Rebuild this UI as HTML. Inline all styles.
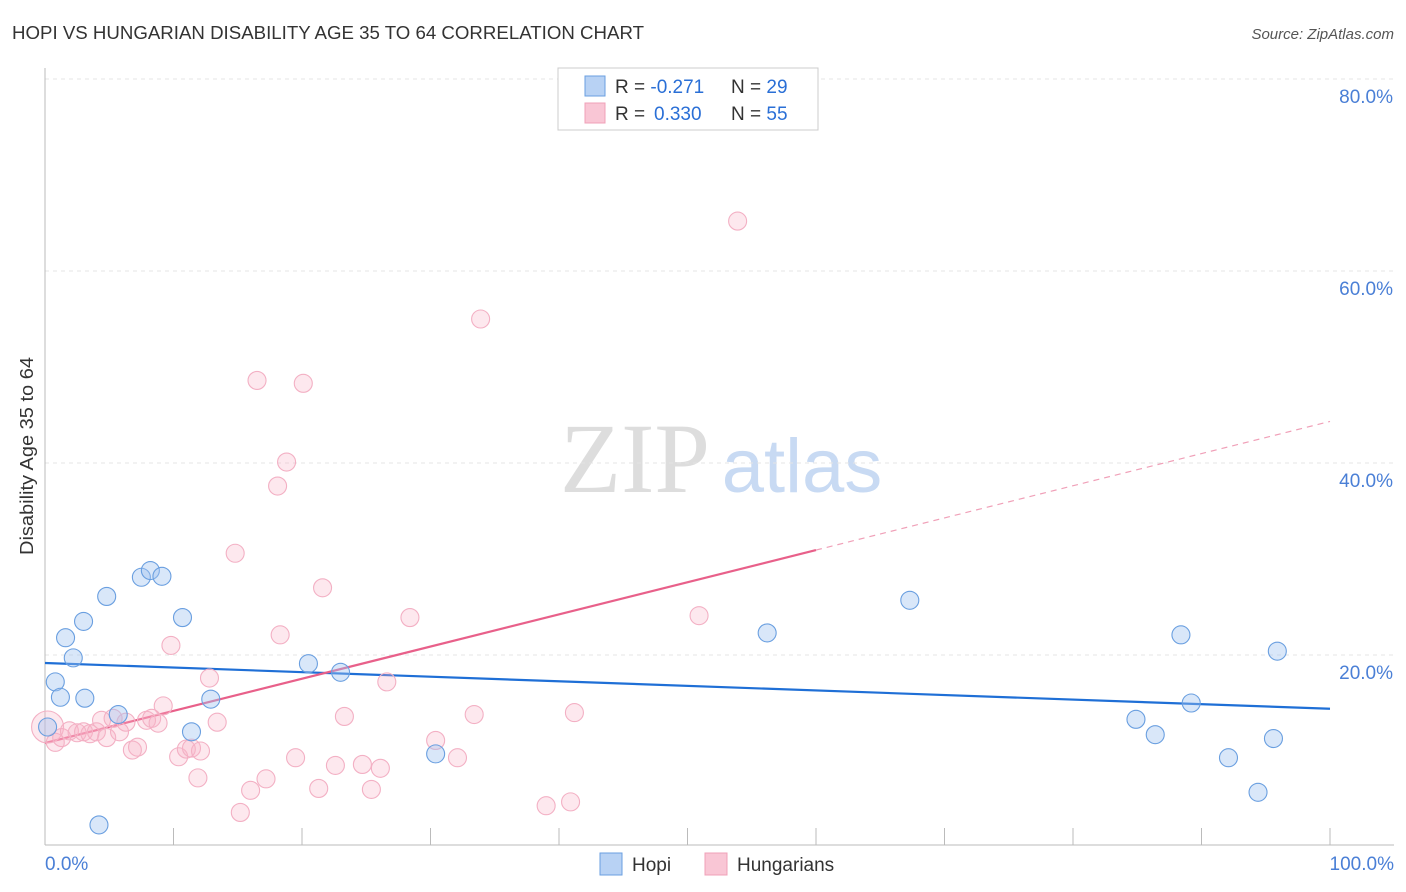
<!DOCTYPE html>
<html><head><meta charset="utf-8"><style>
body{margin:0;background:#fff;font-family:"Liberation Sans",sans-serif;}
svg{display:block}
</style></head><body>
<svg id="chart" width="1406" height="892">
<text x="12" y="39" font-size="18" fill="#333" textLength="632" lengthAdjust="spacingAndGlyphs">HOPI VS HUNGARIAN DISABILITY AGE 35 TO 64 CORRELATION CHART</text>
<text x="1394" y="39" font-size="15" fill="#555" font-style="italic" text-anchor="end">Source: ZipAtlas.com</text>
<g><text x="635" y="492" font-size="100" fill="#ddd" font-family="Liberation Serif,serif" text-anchor="middle">ZIP</text><text x="802" y="492" font-size="76" fill="#c8daf3" text-anchor="middle">atlas</text></g>
<text transform="translate(33,456) rotate(-90)" font-size="18" fill="#333" text-anchor="middle" textLength="198" lengthAdjust="spacingAndGlyphs">Disability Age 35 to 64</text>
<g id="grid"></g><g id="axes"></g><g id="lines"></g><g id="pts"></g>
<g>
<rect x="558" y="68" width="260" height="62" fill="#fff" stroke="#ccc"/>
<rect x="585" y="76" width="20" height="20" fill="#b8d2f4" stroke="#6a9fe0"/>
<rect x="585" y="103" width="20" height="20" fill="#f9c6d5" stroke="#f0a0b8"/>
<text x="615" y="93" font-size="19" fill="#333">R = <tspan fill="#2a6fd6">-0.271</tspan><tspan x="731">N = </tspan><tspan fill="#2a6fd6">29</tspan></text>
<text x="615" y="120" font-size="19" fill="#333">R = <tspan fill="#2a6fd6" x="654">0.330</tspan><tspan x="731">N = </tspan><tspan fill="#2a6fd6">55</tspan></text>
</g>
<g>
<rect x="600" y="853" width="22" height="22" fill="#b8d2f4" stroke="#6a9fe0"/>
<text x="632" y="871" font-size="19" fill="#333">Hopi</text>
<rect x="705" y="853" width="22" height="22" fill="#f9c6d5" stroke="#f0a0b8"/>
<text x="737" y="871" font-size="19" fill="#333">Hungarians</text>
</g>
</svg>
<script>
const hopiX=[0.2,0.8,1.2,1.6,2.2,3.0,3.1,4.2,4.8,5.7,7.5,8.2,9.1,10.7,11.4,12.9,20.5,23.0,30.4,56.2,67.3,84.9,86.4,88.4,89.2,92.1,94.4,95.6,95.9];
const hopiY=[12.5,17.2,15.6,21.8,19.7,23.5,15.5,2.3,26.1,13.8,28.1,28.8,28.2,23.9,12.0,15.4,19.1,18.2,9.7,22.3,25.7,13.3,11.7,22.1,15.0,9.3,5.7,11.3,20.4];
const hunX=[0.2,0.8,1.3,1.9,2.5,3.0,3.5,4.0,4.4,4.8,5.3,5.8,6.3,6.8,7.2,7.9,8.3,8.8,9.2,9.8,10.4,11.0,11.4,11.9,12.1,12.8,13.4,14.8,15.2,16.0,16.5,17.2,18.1,18.3,18.8,19.5,20.1,21.3,21.6,22.6,23.3,24.7,25.4,26.1,26.6,28.4,30.4,32.1,33.4,33.9,39.0,40.9,41.2,50.9,53.9];
const hunY=[12.5,10.9,11.4,12.1,11.9,12.0,11.8,12.0,13.2,11.4,13.4,12.0,13.0,10.1,10.4,13.2,13.4,12.9,14.7,21.0,9.4,10.2,10.3,7.2,10.0,17.6,13.0,30.6,3.6,5.9,48.6,7.1,37.6,22.1,40.1,9.3,48.3,6.1,27.0,8.5,13.6,8.6,6.0,8.2,17.2,23.9,11.1,9.3,13.8,55.0,4.3,4.7,14.0,24.1,65.2];
const yTicks=[20,40,60,80];
const yTickLabels=["20.0%","40.0%","60.0%","80.0%"];
const xTickLabels=["0.0%","100.0%"];
const hopiFit=[19.17,-0.0477];
const hunFit=[10.83,0.335];
const NS="http://www.w3.org/2000/svg";
const sx=v=>45+v*12.85, sy=v=>847-v*9.6;
function mk(p,t,a){const e=document.createElementNS(NS,t);for(const k in a)e.setAttribute(k,a[k]);p.appendChild(e);return e;}
const grid=document.getElementById('grid'),axes=document.getElementById('axes'),lines=document.getElementById('lines'),pts=document.getElementById('pts');
yTicks.forEach((t,i)=>{
 const l=mk(grid,'line',{x1:45,x2:1394,y1:sy(t),y2:sy(t),stroke:'#e4e4e4','stroke-dasharray':'4,4'});
 
 
 const tx=mk(axes,'text',{x:1393,y:sy(t)+24,'font-size':19,fill:'#4a7fd6','text-anchor':'end'});
 tx.textContent=yTickLabels[i];
 
 
});
const xl=mk(axes,'line',{x1:45,x2:1394,y1:845,y2:845,stroke:'#bbb'});


const yl=mk(axes,'line',{x1:45,x2:45,y1:68,y2:845,stroke:'#bbb'});


for(let i=1;i<=10;i++){const t=mk(axes,'line',{x1:sx(i*10),x2:sx(i*10),y1:828,y2:845,stroke:'#bbb'});
 
 }
const x0=mk(axes,'text',{x:45,y:870,'font-size':19,fill:'#4a7fd6'});x0.textContent=xTickLabels[0];


const x1=mk(axes,'text',{x:1394,y:870,'font-size':19,fill:'#4a7fd6','text-anchor':'end'});x1.textContent=xTickLabels[1];


hunX.forEach((x,i)=>{const c=mk(pts,'circle',{cx:sx(x),cy:sy(hunY[i]),r:i===0?16:9,fill:'rgba(248,180,200,0.3)',stroke:'#f3b0c4','stroke-width':1.1});
 
 });
hopiX.forEach((x,i)=>{const c=mk(pts,'circle',{cx:sx(x),cy:sy(hopiY[i]),r:9,fill:'rgba(160,196,240,0.4)',stroke:'#6a9fe0','stroke-width':1.1});
 
 });
const hb=mk(lines,'line',{x1:sx(0),y1:sy(hopiFit[0]),x2:sx(100),y2:sy(hopiFit[0]+100*hopiFit[1]),stroke:'#1f6fd6','stroke-width':2.2});


const hs=mk(lines,'line',{x1:sx(0),y1:sy(hunFit[0]),x2:sx(60),y2:sy(hunFit[0]+60*hunFit[1]),stroke:'#e8608a','stroke-width':2.2});


const hd=mk(lines,'line',{x1:sx(60),y1:sy(hunFit[0]+60*hunFit[1]),x2:sx(100),y2:sy(hunFit[0]+100*hunFit[1]),stroke:'#f0a0b8','stroke-width':1.2,'stroke-dasharray':'6,5'});


</script>
</body></html>
